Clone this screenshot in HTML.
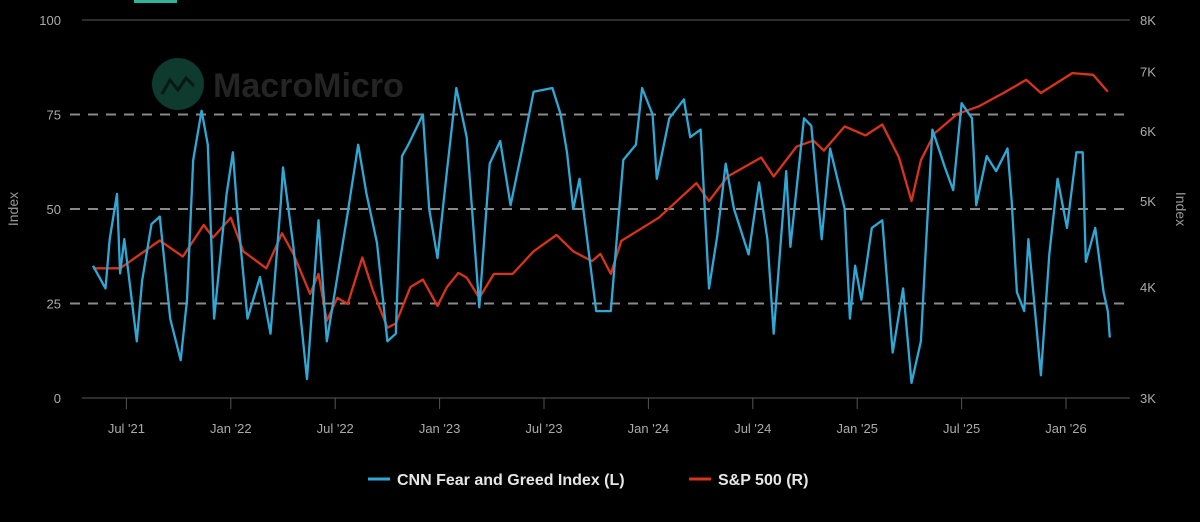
<!DOCTYPE html>
<html><head><meta charset="utf-8"><style>
html,body{margin:0;padding:0;background:#000;width:1200px;height:522px;overflow:hidden}
svg{display:block}
text{font-family:"Liberation Sans",sans-serif}
</style></head><body>
<svg id="chart" width="1200" height="522" viewBox="0 0 1200 522">
<rect x="0" y="0" width="1200" height="522" fill="#000"/>
<rect x="134" y="0" width="43" height="3" fill="#2fb59a"/>
<g>
<circle cx="178" cy="84" r="26" fill="#0f3a2e"/>
<path d="M162 94 L170 80 L178 90 L186 78 L194 86" stroke="#061a14" stroke-width="3" fill="none"/>
<text x="213" y="97" font-size="34" font-weight="bold" fill="#242424">MacroMicro</text>
</g>
<g id="grid"></g>
<g id="series"></g>
<g id="axes"></g>
<text x="18" y="209" transform="rotate(-90 18 209)" text-anchor="middle" font-size="14" fill="#999">Index</text>
<text x="1176" y="209" transform="rotate(90 1176 209)" text-anchor="middle" font-size="14" fill="#999">Index</text>
<g>
<g>
<line x1="368" y1="479" x2="390" y2="479" stroke="#2fa8d6" stroke-width="3"/>
<text x="397" y="485" font-size="16" font-weight="bold" fill="#e6e6e6">CNN Fear and Greed Index (L)</text>
</g>
<g>
<line x1="689" y1="479" x2="711" y2="479" stroke="#d8341c" stroke-width="3"/>
<text x="718" y="485" font-size="16" font-weight="bold" fill="#e6e6e6">S&amp;P 500 (R)</text>
</g>
</g>
</svg>
<script>
const fgDates=[2021.34,2021.40,2021.42,2021.455,2021.47,2021.49,2021.55,2021.575,2021.62,2021.66,2021.71,2021.76,2021.79,2021.82,2021.86,2021.89,2021.92,2021.98,2022.01,2022.03,2022.08,2022.14,2022.19,2022.24,2022.25,2022.30,2022.365,2022.42,2022.46,2022.51,2022.56,2022.61,2022.65,2022.70,2022.75,2022.79,2022.82,2022.85,2022.92,2022.95,2022.99,2023.035,2023.08,2023.13,2023.19,2023.24,2023.29,2023.34,2023.40,2023.45,2023.54,2023.58,2023.61,2023.64,2023.67,2023.75,2023.82,2023.88,2023.94,2023.97,2024.02,2024.04,2024.10,2024.17,2024.20,2024.25,2024.29,2024.33,2024.37,2024.41,2024.48,2024.53,2024.57,2024.60,2024.66,2024.68,2024.745,2024.78,2024.83,2024.87,2024.94,2024.965,2024.99,2025.02,2025.07,2025.12,2025.16,2025.17,2025.22,2025.26,2025.305,2025.33,2025.36,2025.42,2025.46,2025.50,2025.55,2025.57,2025.62,2025.665,2025.72,2025.74,2025.765,2025.80,2025.82,2025.88,2025.92,2025.96,2026.005,2026.05,2026.08,2026.095,2026.14,2026.18,2026.20,2026.21];
const fgValues=[35,29,42,54,33,42,15,31,46,48,21,10,26,63,76,67,21,54,65,50,21,32,17,52,61,40,5,47,15,32,49,67,54,41,15,17,64,67,75,50,37,60,82,69,24,62,68,51,67,81,82,75,65,50,58,23,23,63,67,82,75,58,74,79,69,71,29,43,62,50,38,57,42,17,60,40,74,72,42,66,50,21,35,26,45,47,19,12,29,4,15,41,71,61,55,78,74,51,64,60,66,52,28,23,42,6,38,58,45,65,65,36,45,28,23,16];
const spDates=[2021.34,2021.47,2021.66,2021.77,2021.87,2021.915,2022.00,2022.06,2022.17,2022.245,2022.30,2022.38,2022.42,2022.46,2022.51,2022.56,2022.63,2022.68,2022.75,2022.79,2022.86,2022.92,2022.99,2023.035,2023.09,2023.13,2023.19,2023.26,2023.35,2023.45,2023.56,2023.64,2023.73,2023.77,2023.82,2023.87,2024.05,2024.23,2024.29,2024.38,2024.54,2024.60,2024.71,2024.79,2024.84,2024.94,2025.04,2025.12,2025.20,2025.26,2025.305,2025.37,2025.48,2025.58,2025.70,2025.81,2025.88,2026.03,2026.13,2026.20];
const spValues=[4200,4200,4515,4330,4700,4550,4790,4390,4200,4600,4360,3930,4140,3665,3890,3830,4320,3970,3600,3640,4000,4080,3810,4000,4150,4100,3890,4140,4140,4390,4580,4390,4280,4360,4140,4510,4790,5240,5000,5330,5600,5330,5760,5850,5700,6070,5930,6100,5600,5000,5560,5960,6270,6390,6620,6850,6620,6970,6940,6640];
const leftTicks=[0,25,50,75,100];
const rightTicks=[3000,4000,5000,6000,7000,8000];
const rightTickLabels=["3K","4K","5K","6K","7K","8K"];
const xTickDates=[2021.5,2022,2022.5,2023,2023.5,2024,2024.5,2025,2025.5,2026];
const xTickLabels=["Jul '21","Jan '22","Jul '22","Jan '23","Jul '23","Jan '24","Jul '24","Jan '25","Jul '25","Jan '26"];

const NS="http://www.w3.org/2000/svg";
const PL=82,PR=1122,PT=20,PB=398;
function xScale(d){return 22+(d-2021)*208.8;}
function yLeft(v){return PB-(v/100)*(PB-PT);}
function yRight(v){return PB-Math.log(v/3000)/Math.log(8000/3000)*(PB-PT);}
function mk(tag,attrs,parent){const e=document.createElementNS(NS,tag);for(const k in attrs)e.setAttribute(k,attrs[k]);parent.appendChild(e);return e;}
const grid=document.getElementById('grid'),axes=document.getElementById('axes'),series=document.getElementById('series');
leftTicks.forEach(t=>{
  const y=yLeft(t);
  let l;
  if(t===100||t===0){l=mk('line',{x1:PL,x2:PR+8,y1:y,y2:y,stroke:'#3a3a3a','stroke-width':1.5},grid);}
  else{l=mk('line',{x1:PL-12,x2:PR+8,y1:y,y2:y,stroke:'#8a8a8a','stroke-width':2,'stroke-dasharray':'10 8'},grid);}
  
  
  const tx=mk('text',{x:61,y:y+5,'text-anchor':'end','font-size':13,fill:'#aaa'},axes);
  tx.textContent=t;
  
  
});
rightTicks.forEach((t,i)=>{
  const tx=mk('text',{x:1140,y:yRight(t)+5,'font-size':13,fill:'#aaa'},axes);
  tx.textContent=rightTickLabels[i];
  
  
});
xTickDates.forEach((d,i)=>{
  const x=xScale(d);
  const tk=mk('line',{x1:x,x2:x,y1:PB,y2:PB+11,stroke:'#555','stroke-width':1},axes);
  
  
  const tx=mk('text',{x:x,y:433,'text-anchor':'middle','font-size':13,fill:'#aaa'},axes);
  tx.textContent=xTickLabels[i];
  
  
});
const sp=mk('polyline',{points:spDates.map((d,i)=>xScale(d).toFixed(1)+','+yRight(spValues[i]).toFixed(1)).join(' '),fill:'none',stroke:'#d8341c','stroke-width':2.3,'stroke-linejoin':'round'},series);


const fg=mk('polyline',{points:fgDates.map((d,i)=>xScale(d).toFixed(1)+','+yLeft(fgValues[i]).toFixed(1)).join(' '),fill:'none',stroke:'#2fa8d6','stroke-width':2.3,'stroke-linejoin':'round'},series);


</script>
</body></html>
